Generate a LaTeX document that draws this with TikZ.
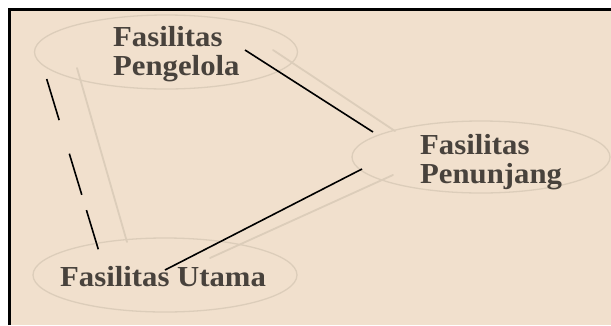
\documentclass[tikz,border=0pt]{standalone}
\usepackage{fontspec}
\setmainfont[FakeStretch=1.06]{Liberation Serif}
\usetikzlibrary{shapes.geometric}
\definecolor{bg}{RGB}{241,224,205}
\definecolor{faint}{RGB}{220,205,186}
\definecolor{txt}{RGB}{72,66,60}
\tikzset{
  oval/.style={ellipse, draw=faint, line width=1.3pt, inner sep=0pt},
  lbl/.style={anchor=north west, inner sep=0pt, align=left, text=txt,
    font=\fontsize{29}{29.5}\selectfont\bfseries},
  ghost/.style={draw=faint, line width=1.8pt, line cap=round},
  link/.style={draw=black, line width=1.6pt},
}
\begin{document}
\begin{tikzpicture}[x=1pt,y=-1pt]
\useasboundingbox (0,0) rectangle (611,325);
\fill[white] (0,0) rectangle (611,325);
\fill[bg] (11,11) rectangle (611,325);
\draw[black, line width=3pt] (9.5,325) -- (9.5,9.5) -- (611,9.5);

% ellipses
\node[oval, minimum width=263pt, minimum height=74pt] (peng) at (166,52) {};
\node[oval, minimum width=258pt, minimum height=72pt] (penu) at (481,157) {};
\node[oval, minimum width=264pt, minimum height=74pt] (utam) at (165,275) {};

% faint connectors
\coordinate (g1a) at (77,68);   \coordinate (g1b) at (127,242);
\coordinate (g2a) at (273,50);  \coordinate (g2b) at (395,131);
\coordinate (g3a) at (393,175); \coordinate (g3b) at (210,258);
\draw[ghost] (g1a) -- (g1b);
\draw[ghost] (g2a) -- (g2b);
\draw[ghost] (g3a) -- (g3b);

% labels
\node[lbl] (tpeng) at (113,26) {Fasilitas\\Pengelola};
\node[lbl] (tpenu) at (420,134) {Fasilitas\\Penunjang};
\node[lbl] (tutam) at (60,266) {Fasilitas Utama};

% black connectors
\coordinate (a1) at (245,50);   \coordinate (a2) at (373,132);
\coordinate (b1) at (165,270);  \coordinate (b2) at (362,169);
\coordinate (d1) at (46.7,79);  \coordinate (d2) at (98.3,249.3);
\draw[link] (a1) -- (a2);
\draw[link] (b1) -- (b2);
\draw[link, dash pattern=on 43pt off 35pt on 43pt off 16pt] (d1) -- (d2);
\end{tikzpicture}
\end{document}
